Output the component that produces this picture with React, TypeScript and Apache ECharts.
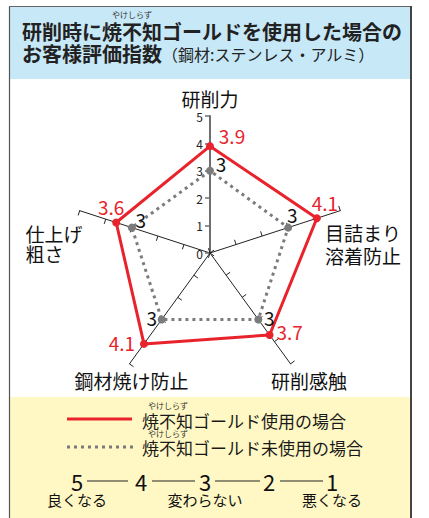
import React, { useEffect, useRef } from "react";
import * as echarts from "echarts";

// Radar indicators in ECharts order (counter-clockwise from the top)
const indicatorNames = ["研削力", "仕上げ\n粗さ", "鋼材焼け防止", "研削感触", "目詰まり\n溶着防止"];
const withGold = [3.9, 3.6, 4.1, 3.7, 4.1];
const withoutGold = [3, 3, 3, 3, 3];
const axisMax = 5;

const seriesNames = ["焼不知ゴールド使用の場合", "焼不知ゴールド未使用の場合"];
const rubyText = "やけしらず";
const titleLine1 = "研削時に焼不知ゴールドを使用した場合の";
const titleLine2 = "お客様評価指数";
const titleNote = "（鋼材:ステンレス・アルミ）";
const scaleValues = ["5", "4", "3", "2", "1"];
const scaleCaptions = ["良くなる", "変わらない", "悪くなる"];

const FONT = '"Noto Sans CJK JP", "Noto Sans", sans-serif';
const RED = "#e8232b";
const GRAY = "#7b7b7b";

export default function App() {
  const ref = useRef<HTMLDivElement>(null);
  useEffect(() => {
    if (!ref.current) return;
    const chart = echarts.init(ref.current, null, { renderer: "svg" });

    const indicatorStyle: any[] = [
      {
        nameGap: 6,
        nameTextStyle: { align: "center", verticalAlign: "bottom" },
        axisLine: { lineStyle: { color: "#6e6e6e", width: 2 } },
        axisTick: { lineStyle: { color: "#6e6e6e", width: 1.5 } },
        axisLabel: { show: true },
      },
      { nameGap: 57, nameTextStyle: { align: "left", verticalAlign: "top", padding: [30, 0, 0, 0], lineHeight: 20 } },
      { nameGap: 0, nameTextStyle: { align: "center", verticalAlign: "top", padding: [5, 0, 0, 4] } },
      { nameGap: 0, nameTextStyle: { align: "center", verticalAlign: "top", padding: [5, 0, 0, 37] } },
      { nameGap: 24, nameTextStyle: { align: "center", verticalAlign: "top", padding: [18, 0, 0, 0] } },
    ];

    const redOffsets = [[22, -11], [-5, -16], [-22, -1], [20, -4], [8, -16]];
    const grayOffsets = [[11, -7], [9, -8], [-10, -2], [11, -2], [4, -13]];

    const labelItem = (k: number, values: number[], color: string, offset: number[]) => ({
      value: values,
      symbol: "circle",
      symbolSize: 2,
      lineStyle: { width: 0, opacity: 0 },
      itemStyle: { color: "transparent" },
      label: {
        show: true,
        position: "inside",
        offset,
        color,
        fontSize: 19,
        fontFamily: FONT,
        textBorderWidth: 0,
        textBorderColor: "transparent",
        formatter: (p: any) => (p.dimensionIndex === k ? String(values[k]) : ""),
      },
    });

    const ruby = (cx: number, y: number) => ({
      type: "text",
      x: cx,
      y,
      style: { text: rubyText, font: `8px ${FONT}`, fill: "#333", align: "center", textAlign: "center", verticalAlign: "middle", textVerticalAlign: "middle" },
    });
    const txt = (x: number, y: number, text: string, font: string, align = "left", fill = "#1a1a1a") => ({
      type: "text",
      x,
      y,
      style: { text, font, fill, align, textAlign: align, verticalAlign: "middle", textVerticalAlign: "middle" },
    });

    const scaleX = [77, 141, 205, 269, 332];
    const scaleLines = [[87, 128], [152, 195], [215, 260], [280, 323]];
    const captionX = [77, 205, 332];

    const dots: any[] = [];
    for (let x = 67; x < 132; x += 7) {
      dots.push({ type: "rect", shape: { x, y: 445.5, width: 3, height: 3 }, style: { fill: GRAY } });
    }

    const graphic: any[] = [
      { type: "rect", shape: { x: 10, y: 7, width: 400, height: 72 }, style: { fill: "#c7e8f7" }, z: -10 },
      { type: "rect", shape: { x: 10, y: 397, width: 400, height: 121 }, style: { fill: "#fff8c4" }, z: -10 },
      { type: "line", shape: { x1: 9.5, y1: 6, x2: 9.5, y2: 518 }, style: { stroke: "#555", lineWidth: 1.2 } },
      { type: "line", shape: { x1: 9, y1: 6.5, x2: 412, y2: 6.5 }, style: { stroke: "#666", lineWidth: 1 } },
      { type: "line", shape: { x1: 411, y1: 6, x2: 411, y2: 518 }, style: { stroke: "#444", lineWidth: 2 } },
      ruby(132, 14),
      txt(22, 31, titleLine1, `bold 20px ${FONT}`, "left", "#222"),
      txt(22, 53, titleLine2, `bold 20px ${FONT}`, "left", "#222"),
      txt(162, 54, titleNote, `16px ${FONT}`, "left", "#222"),
      { type: "line", shape: { x1: 67, y1: 419, x2: 132, y2: 419 }, style: { stroke: RED, lineWidth: 3 } },
      ...dots,
      ruby(168, 405),
      txt(142, 420, seriesNames[0], `17px ${FONT}`),
      ruby(168, 433),
      txt(142, 447, seriesNames[1], `17px ${FONT}`),
      ...scaleValues.map((v, i) => txt(scaleX[i], 481, v, `22px ${FONT}`, "center", "#111")),
      ...scaleLines.map(([a, b]) => ({ type: "line", shape: { x1: a, y1: 481, x2: b, y2: 481 }, style: { stroke: "#222", lineWidth: 1.2 } })),
      ...scaleCaptions.map((c, i) => txt(captionX[i], 499, c, `15px ${FONT}`, "center", "#111")),
    ];

    chart.setOption({
      animation: false,
      radar: {
        center: [210, 253],
        radius: 137,
        startAngle: 90,
        shape: "polygon",
        splitNumber: 5,
        indicator: indicatorNames.map((name, i) => ({ name, min: 0, max: axisMax, ...indicatorStyle[i] })),
        axisName: { color: "#111", fontSize: 19, fontFamily: FONT, lineHeight: 23 },
        splitLine: { show: false },
        splitArea: { show: false },
        axisLine: { lineStyle: { color: "#222", width: 1 } },
        axisTick: { show: true, length: 5, lineStyle: { color: "#222", width: 1 } },
        axisLabel: { show: false, fontSize: 12, color: "#222", fontFamily: FONT, margin: 7 },
      },
      graphic,
      series: [
        {
          type: "radar",
          silent: true,
          emphasis: { disabled: true },
          data: [
            {
              name: seriesNames[1],
              value: withoutGold,
              symbol: "circle",
              symbolSize: 8,
              lineStyle: { color: GRAY, width: 3, type: [3, 4] },
              itemStyle: { color: GRAY },
            },
            {
              name: seriesNames[0],
              value: withGold,
              symbol: "circle",
              symbolSize: 8,
              lineStyle: { color: RED, width: 3 },
              itemStyle: { color: RED },
            },
            ...withoutGold.map((_, k) => labelItem(k, withoutGold, "#111", grayOffsets[k])),
            ...withGold.map((_, k) => labelItem(k, withGold, RED, redOffsets[k])),
          ],
        },
      ],
    });
    return () => chart.dispose();
  }, []);
  return <div ref={ref} style={{ position: "absolute", left: 0, top: 0, width: 429, height: 518 }} />;
}
